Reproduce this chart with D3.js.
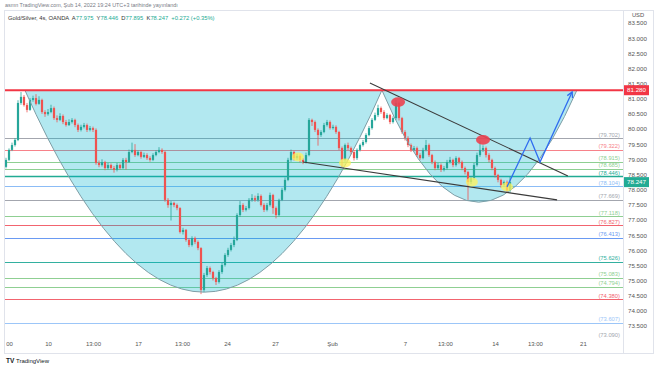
<!DOCTYPE html>
<html>
<head>
<meta charset="utf-8">
<script src="https://cdnjs.cloudflare.com/ajax/libs/d3/7.8.5/d3.min.js"></script>
<style>
body{margin:0;background:#fff;}
svg{display:block;font-family:"Liberation Sans",Arial,sans-serif;}
</style>
</head>
<body>
<svg id="chart" width="654" height="366"></svg>
<script>
// gold/silver 4h candles (bar index 0 .. 168)
var firstOpen = 78.75;
var closes = [78.98,79.31,79.47,79.64,80.86,81.06,80.79,80.63,80.96,81.02,80.83,80.96,80.56,80.49,80.56,80.69,80.36,80.30,80.43,80.23,
  80.13,80.23,80.30,80.13,79.97,80.07,80.13,79.97,80.03,79.97,78.88,78.81,78.91,78.71,78.81,78.71,78.65,78.81,78.71,78.98,
  78.91,79.24,79.31,79.14,79.24,79.08,79.14,79.04,78.98,79.14,79.24,79.31,79.24,77.66,77.49,77.56,77.49,77.39,76.60,76.67,
  76.34,76.17,76.40,76.27,76.07,74.69,75.18,75.41,75.28,75.08,74.95,75.28,75.51,75.84,76.01,76.17,76.34,77.16,77.49,77.33,
  77.39,77.66,77.72,77.66,77.79,77.49,77.33,77.49,77.82,77.39,77.16,77.66,77.99,78.32,78.98,79.24,79.04,79.11,78.98,78.91,
  79.14,80.30,80.23,79.97,79.80,79.90,80.13,80.23,80.03,80.07,79.90,79.37,78.98,79.47,79.37,79.24,79.04,79.31,79.47,79.57,
  79.80,80.03,80.30,80.46,80.69,80.56,80.36,80.46,80.23,80.36,80.86,80.36,79.90,79.70,79.47,79.31,79.37,79.14,79.04,79.31,
  79.47,79.14,78.91,78.71,78.81,78.65,78.71,78.91,78.98,78.81,79.04,78.91,78.71,78.58,78.25,78.38,78.81,79.14,79.31,79.37,
  79.14,78.98,78.71,78.48,78.32,78.15,78.25,77.975,78.247];
var highs = [79.05,79.36,79.55,79.70,80.95,81.22,81.12,80.86,81.02,81.10,81.15,81.08,81.00,80.62,80.66,80.80,80.74,80.45,80.52,80.48,
  80.30,80.32,80.36,80.34,80.18,80.14,80.20,80.18,80.10,80.08,80.02,78.96,79.00,78.95,78.88,78.86,78.78,78.88,78.86,79.04,
  79.05,79.32,79.55,79.50,79.30,79.28,79.22,79.20,79.10,79.20,79.30,79.40,79.36,79.28,77.72,77.62,77.60,77.54,77.42,76.74,
  76.70,76.40,76.46,76.45,76.32,76.10,75.25,75.48,75.46,75.32,75.12,75.34,75.58,75.90,76.08,76.24,76.45,77.22,77.62,77.55,
  77.46,77.72,77.85,77.80,77.88,77.84,77.55,77.56,77.90,77.86,77.44,77.70,78.06,78.40,79.05,79.32,79.28,79.18,79.16,79.04,
  79.22,80.36,80.34,80.28,80.02,79.96,80.20,80.30,80.28,80.14,80.12,79.94,79.42,79.52,79.55,79.42,79.30,79.36,79.52,79.64,
  79.86,80.10,80.36,80.54,80.80,80.74,80.62,80.52,80.50,80.42,80.96,80.90,80.40,79.96,79.76,79.52,79.44,79.42,79.20,79.38,
  79.64,79.52,79.18,78.96,78.88,78.86,78.78,78.98,79.08,79.02,79.10,79.08,78.96,78.76,78.62,78.45,78.88,79.22,79.60,79.46,
  79.42,79.20,79.02,78.76,78.52,78.36,78.30,78.30,78.446];
var lows = [78.70,78.94,79.27,79.42,79.60,80.80,80.74,80.55,80.60,80.90,80.78,80.80,80.50,80.40,80.44,80.52,80.30,80.22,80.26,80.16,
  80.08,80.10,80.18,80.06,79.90,79.92,80.02,79.90,79.92,79.90,78.82,78.74,78.76,78.64,78.66,78.66,78.56,78.60,78.66,78.68,
  78.66,78.88,79.20,79.08,79.10,79.02,79.04,78.98,78.92,78.94,79.10,79.20,79.18,77.60,77.40,76.98,77.42,77.32,76.55,76.52,
  76.28,76.10,76.12,76.20,76.00,74.55,74.62,75.12,75.20,75.00,74.85,74.90,75.22,75.46,75.78,75.96,76.10,76.30,77.10,77.26,
  77.28,77.34,77.60,77.60,77.60,77.44,77.26,77.28,77.44,77.20,77.05,77.12,77.62,77.94,78.28,78.92,78.96,78.98,78.90,78.84,
  78.86,79.10,80.10,79.90,79.45,79.74,79.86,80.08,79.98,79.98,79.84,79.30,78.75,78.92,79.30,79.16,78.96,78.98,79.26,79.42,
  79.52,79.76,79.98,80.26,80.40,80.50,80.30,80.32,80.16,80.18,80.30,80.28,79.84,79.62,79.40,79.24,79.26,79.08,78.98,79.00,
  79.26,79.08,78.84,78.64,78.66,78.58,78.60,78.66,78.86,78.74,78.76,78.84,78.64,78.50,77.66,78.18,78.32,78.76,79.08,79.24,
  79.06,78.90,78.64,78.40,78.24,78.06,78.08,77.92,77.895];

// time axis labels at bar index (first one is cut by the left edge, as on the original)
var timeIdx = [-0.4, 14, 29, 44, 58.7, 73.7, 89.7, 108.7, 133, 146.3, 163, 176.3, 192.3];
var timeLabels = ["13:00", "10", "13:00", "17", "13:00", "24", "27", "Şub", "7", "13:00", "14", "13:00", "21"];

// price axis labels
var priceTicks = [73.5, 74, 74.5, 75, 75.5, 76, 76.5, 77, 77.5, 78, 78.5, 79, 79.5, 80, 80.5, 81, 81.5, 82, 82.5, 83, 83.5];

// horizontal levels
var levelPrices = [79.702, 79.322, 78.915, 78.685, 78.446, 78.104, 77.669, 77.118, 76.827, 76.413, 75.626, 75.083, 74.794, 74.380, 73.607, 73.090];
var levelColors = ["#a3a6ae", "#f7828a", "#8fcf92", "#8fcf92", "#22ab94", "#8cbcf6", "#a3a6ae", "#8fcf92", "#f2646f", "#6a9af2", "#33b0a0", "#8fcf92", "#8fcf92", "#f2646f", "#9cc6f8", "#a3a6ae"];
var resistance = 81.280;
var lastPrice = 78.247;

// cup and handle arcs: start, control, end [bar, price]
var cups = [
  [[6.3, 81.28], [66.3, 67.95], [125.3, 81.28]],
  [[125.3, 81.28], [157.3, 73.89], [190.3, 81.28]]
];
// trend lines
var trendLines = [
  [[121.3, 81.52], [187.3, 78.45]],
  [[99, 78.91], [183.7, 77.66]]
];
var redMarks = [[130.7, 80.89], [159, 79.64]];
var yellowMarks = [[97.3, 79.08], [113, 78.88], [155.3, 78.25], [167, 78.09]];
var arrowPath = [[167, 78.09], [174.7, 79.70], [178, 78.91], [188.7, 81.22]];

var svg = d3.select("#chart");
var W = 654, H = 366;
var plot = {left: 5, right: 623, top: 10, bottom: 338};

var x = d3.scaleLinear().domain([0, 168]).range([6, 510]);
var y = d3.scaleLinear().domain([73, 84]).range([341.1, 7.8]);

svg.append("rect").attr("width", W).attr("height", H).attr("fill", "#fff");

// header
svg.append("text")
    .attr("x", 5).attr("y", 7)
    .attr("font-size", 5.4).attr("fill", "#787b86")
    .text("asmn TradingView.com, Şub 14, 2022 19:24 UTC+3 tarihinde yayınlandı");

var hdr = svg.append("text").attr("x", 8).attr("y", 19.5).attr("font-size", 5.8);
var hdrParts = [["Gold/Silver, 4s, OANDA  ", "#333"], ["A", "#333"], ["77.975  ", "#22ab94"], ["Y", "#333"], ["78.446  ", "#22ab94"],
  ["D", "#333"], ["77.895  ", "#22ab94"], ["K", "#333"], ["78.247  ", "#22ab94"], ["+0.272 (+0.35%)", "#22ab94"]];
hdr.selectAll("tspan").data(hdrParts).enter().append("tspan")
    .attr("fill", function(d){ return d[1]; })
    .attr("xml:space", "preserve")
    .style("white-space", "pre")
    .text(function(d){ return d[0]; });

// frame
svg.append("rect")
    .attr("x", 4.5).attr("y", 10.5).attr("width", 649).attr("height", 343)
    .attr("fill", "none").attr("stroke", "#e0e3eb");
svg.append("line")
    .attr("x1", plot.right + 0.5).attr("x2", plot.right + 0.5)
    .attr("y1", 10).attr("y2", 353)
    .attr("stroke", "#e0e3eb");

svg.append("clipPath").attr("id", "clip")
  .append("rect")
    .attr("x", plot.left).attr("y", plot.top)
    .attr("width", plot.right - plot.left).attr("height", plot.bottom - plot.top);

var g = svg.append("g").attr("clip-path", "url(#clip)");

// level lines
g.selectAll(".level").data(levelPrices).enter().append("line")
    .attr("class", "level")
    .attr("x1", plot.left).attr("x2", plot.right)
    .attr("y1", function(d){ return Math.round(y(d)) + 0.5; })
    .attr("y2", function(d){ return Math.round(y(d)) + 0.5; })
    .attr("stroke", function(d, i){ return levelColors[i]; })
    .attr("stroke-width", function(d, i){ return i == 4 ? 1.4 : 1; });

// cup fills
function cupPath(c) {
    var p = d3.path();
    p.moveTo(x(c[0][0]), y(c[0][1]));
    p.quadraticCurveTo(x(c[1][0]), y(c[1][1]), x(c[2][0]), y(c[2][1]));
    return p;
}
g.selectAll(".cupfill").data(cups).enter().append("path")
    .attr("class", "cupfill")
    .attr("d", function(d){ return cupPath(d).toString() + "Z"; })
    .attr("fill", "rgba(0,178,205,0.3)")
    .attr("stroke", "none");

// candles
var candles = closes.map(function(c, i){
    return {i: i, o: i == 0 ? firstOpen : closes[i-1], h: highs[i], l: lows[i], c: c};
});
var gC = g.append("g").attr("class", "candles");
gC.selectAll(".wick").data(candles).enter().append("line")
    .attr("class", "wick")
    .attr("x1", function(d){ return x(d.i); })
    .attr("x2", function(d){ return x(d.i); })
    .attr("y1", function(d){ return y(d.h); })
    .attr("y2", function(d){ return y(d.l); })
    .attr("stroke", function(d){ return d.c >= d.o ? "#26a69a" : "#ef5350"; })
    .attr("stroke-width", 0.8);
gC.selectAll(".body").data(candles).enter().append("rect")
    .attr("class", "body")
    .attr("x", function(d){ return x(d.i) - 1.1; })
    .attr("width", 2.2)
    .attr("y", function(d){ return y(Math.max(d.o, d.c)); })
    .attr("height", function(d){ return Math.max(1, Math.abs(y(d.o) - y(d.c))); })
    .attr("fill", function(d){ return d.c >= d.o ? "#26a69a" : "#ef5350"; });

// cup outlines
g.selectAll(".cupline").data(cups).enter().append("path")
    .attr("class", "cupline")
    .attr("d", function(d){ return cupPath(d).toString(); })
    .attr("fill", "none")
    .attr("stroke", "#7f9ea6")
    .attr("stroke-width", 1);

// resistance
g.append("line")
    .attr("x1", plot.left).attr("x2", plot.right)
    .attr("y1", y(resistance)).attr("y2", y(resistance))
    .attr("stroke", "#f23645").attr("stroke-width", 2);

// trend lines
var lineFun = d3.line()
    .x(function(d){ return x(d[0]); })
    .y(function(d){ return y(d[1]); });
g.selectAll(".trend").data(trendLines).enter().append("path")
    .attr("class", "trend")
    .attr("d", lineFun)
    .attr("fill", "none")
    .attr("stroke", "#3b3b3b")
    .attr("stroke-width", 1.1);

// markers
g.selectAll(".red").data(redMarks).enter().append("ellipse")
    .attr("class", "red")
    .attr("cx", function(d){ return x(d[0]); })
    .attr("cy", function(d){ return y(d[1]); })
    .attr("rx", 7).attr("ry", 4.8)
    .attr("fill", "#ec4150").attr("opacity", 0.9);
g.selectAll(".yellow").data(yellowMarks).enter().append("ellipse")
    .attr("class", "yellow")
    .attr("cx", function(d){ return x(d[0]); })
    .attr("cy", function(d){ return y(d[1]); })
    .attr("rx", 6).attr("ry", 4.5)
    .attr("fill", "#fff35a").attr("opacity", 0.75);

// projection arrow
g.append("path")
    .attr("d", lineFun(arrowPath))
    .attr("fill", "none")
    .attr("stroke", "#2f6cf0")
    .attr("stroke-width", 1.3);
var pA = arrowPath[arrowPath.length - 2], pB = arrowPath[arrowPath.length - 1];
var ang = Math.atan2(y(pB[1]) - y(pA[1]), x(pB[0]) - x(pA[0]));
var ex = x(pB[0]), ey = y(pB[1]);
g.append("path")
    .attr("d", "M" + (ex - 6 * Math.cos(ang - 0.5)) + "," + (ey - 6 * Math.sin(ang - 0.5)) +
        "L" + ex + "," + ey +
        "L" + (ex - 6 * Math.cos(ang + 0.5)) + "," + (ey - 6 * Math.sin(ang + 0.5)))
    .attr("fill", "none")
    .attr("stroke", "#2f6cf0")
    .attr("stroke-width", 1.3);

// level labels
g.selectAll(".lvlLbl").data(levelPrices).enter().append("text")
    .attr("class", "lvlLbl")
    .attr("x", 620)
    .attr("y", function(d){ return y(d) - 1.5; })
    .attr("text-anchor", "end")
    .attr("font-size", 5.8)
    .attr("fill", function(d, i){ return levelColors[i]; })
    .text(function(d){ return "(" + d3.format(".3f")(d) + ")"; });

// price axis
var yAxis = svg.append("g")
    .attr("transform", "translate(" + 628 + ",0)")
    .call(d3.axisRight(y).tickValues(priceTicks).tickFormat(d3.format(".3f")).tickSize(0).tickPadding(0));
yAxis.select(".domain").remove();
yAxis.selectAll("text").attr("font-size", 6.2).attr("fill", "#555").attr("font-family", "Liberation Sans, Arial, sans-serif");

svg.append("text")
    .attr("x", 638).attr("y", 17)
    .attr("text-anchor", "middle")
    .attr("font-size", 5.8).attr("fill", "#555")
    .text("USD");

// price badges
function badge(p, col) {
    svg.append("rect")
        .attr("x", 624).attr("y", y(p) - 5)
        .attr("width", 25).attr("height", 10)
        .attr("fill", col);
    svg.append("text")
        .attr("x", 636.5).attr("y", y(p) + 2.2)
        .attr("text-anchor", "middle")
        .attr("font-size", 6.2).attr("fill", "#fff")
        .text(d3.format(".3f")(p));
}
badge(resistance, "#f23645");
badge(lastPrice, "#22ab94");

// time axis (clip rect in the axis group's own coordinates)
svg.append("clipPath").attr("id", "clipX")
  .append("rect").attr("x", plot.left + 1).attr("y", 0).attr("width", plot.right - plot.left).attr("height", 15);
var xAxis = svg.append("g")
    .attr("transform", "translate(0," + plot.bottom + ")")
    .append("g")
    .attr("clip-path", "url(#clipX)")
    .call(d3.axisBottom(x).tickValues(timeIdx).tickFormat(function(d, i){ return timeLabels[i]; }).tickSize(0).tickPadding(4));
xAxis.select(".domain").remove();
xAxis.selectAll("text").attr("font-size", 6).attr("fill", "#555").attr("font-family", "Liberation Sans, Arial, sans-serif");

// logo
svg.append("text")
    .attr("x", 6).attr("y", 363)
    .attr("font-size", 6.5).attr("font-weight", "bold").attr("fill", "#131722")
    .text("TV");
svg.append("text")
    .attr("x", 16).attr("y", 363)
    .attr("font-size", 6).attr("fill", "#131722")
    .text("TradingView");
</script>
</body>
</html>
